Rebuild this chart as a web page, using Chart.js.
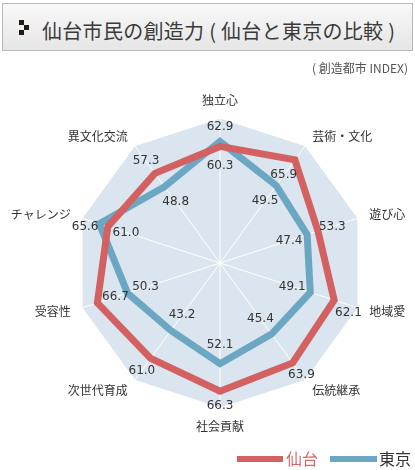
<!DOCTYPE html>
<html lang="ja">
<head>
<meta charset="utf-8">
<script src="https://cdn.jsdelivr.net/npm/chart.js@4.4.1/dist/chart.umd.min.js"></script>
<style>
  body { margin: 0; background: #fff; font-family: "Noto Sans CJK JP", sans-serif; color: #333; }
  #wrap { position: relative; width: 415px; height: 470px; overflow: hidden; }
  #chart { position: absolute; left: 0; top: 0; }
  .title-box {
    position: absolute; left: 2px; top: 3px; width: 409px; height: 46px;
    border: 1px solid #b8b8b8;
    background: linear-gradient(#f8f8f8, #e6e6e6);
  }
  .title-box .icon { position: absolute; width: 5px; height: 5px; background: #231815; }
  .title-box h1 {
    position: absolute; left: 39px; top: 14px; margin: 0;
    font-size: 20px; font-weight: normal; line-height: 26px; color: #3a3a3a;
    letter-spacing: 0.3px; white-space: nowrap;
  }
  .sub { position: absolute; right: 7px; top: 60px; font-size: 12px; line-height: 16px; color: #555; }
  .legend { position: absolute; top: 448px; height: 20px; font-size: 16px; line-height: 20px; white-space: nowrap; }
  .legend .bar { position: absolute; top: 8px; height: 6px; }
  .legend .txt { position: absolute; left: 49px; top: 0; }
</style>
</head>
<body>
<div id="wrap">
  <canvas id="chart" width="415" height="470"></canvas>
  <div class="title-box">
    <span class="icon" style="left:16px;top:16px"></span>
    <span class="icon" style="left:21px;top:21px"></span>
    <span class="icon" style="left:16px;top:26px"></span>
    <h1>仙台市民の創造力 ( 仙台と東京の比較 )</h1>
  </div>
  <div class="sub">( 創造都市 INDEX)</div>
  <div class="legend" style="left:237px;width:90px">
    <span class="bar" style="left:0;width:46px;background:#d46162"></span>
    <span class="txt" style="color:#d46a6c">仙台</span>
  </div>
  <div class="legend" style="left:330px;width:85px">
    <span class="bar" style="left:0;width:47px;background:#6ba7c3"></span>
    <span class="txt" style="color:#333">東京</span>
  </div>
</div>
<script>
// 指標（上から時計回り）
const categories = ['独立心', '芸術・文化', '遊び心', '地域愛', '伝統継承', '社会貢献', '次世代育成', '受容性', 'チャレンジ', '異文化交流'];
const sendaiValues = [60.3, 65.9, 53.3, 62.1, 63.9, 66.3, 61.0, 66.7, 61.0, 57.3];
const tokyoValues = [62.9, 49.5, 47.4, 49.1, 45.4, 52.1, 43.2, 50.3, 65.6, 48.8];
const scaleMax = 75;

// 数値ラベルを線の外側(1)・内側(-1)どちらに置くか
const sendaiLabelSide = [-1, -1, 1, 1, 1, 1, 1, -1, -1, 1];
const tokyoLabelSide = [1, -1, -1, -1, -1, -1, -1, -1, 1, -1];

const RED = '#d46162';
const BLUE = '#6ba7c3';

// 軸ラベルと数値ラベルを描く
const labelPlugin = {
  id: 'radarLabels',
  afterDatasetsDraw(chart) {
    const ctx = chart.ctx;
    const scale = chart.scales.r;
    const n = categories.length;
    ctx.save();
    ctx.fillStyle = '#333';

    // 軸ラベル
    ctx.font = '12px "Noto Sans CJK JP", sans-serif';
    categories.forEach((name, i) => {
      const p = scale.getPointPosition(i, scale.drawingArea + 12);
      const deg = i * 360 / n;
      if (deg === 0) { ctx.textAlign = 'center'; ctx.textBaseline = 'bottom'; }
      else if (deg === 180) { ctx.textAlign = 'center'; ctx.textBaseline = 'top'; }
      else if (deg < 180) { ctx.textAlign = 'left'; ctx.textBaseline = 'middle'; }
      else { ctx.textAlign = 'right'; ctx.textBaseline = 'middle'; }
      ctx.fillText(name, p.x, p.y);
    });

    // 数値ラベル
    ctx.font = '12px "DejaVu Sans", sans-serif';
    ctx.textAlign = 'center';
    ctx.textBaseline = 'middle';
    const sides = [sendaiLabelSide, tokyoLabelSide];
    chart.data.datasets.forEach((ds, d) => {
      ds.data.forEach((v, i) => {
        const outer = sides[d][i] > 0;
        const r = scale.getDistanceFromCenterForValue(v) + (outer ? 15 : -19);
        const p = scale.getPointPosition(i, r);
        // 横向きの軸で外周に近い外側ラベルは少し下げて軸名と重ならないように
        const nudge = outer && Math.abs(Math.sin(p.angle)) < 0.5 && r > scale.drawingArea * 0.9 ? 8 : 0;
        ctx.fillText(v.toFixed(1), p.x, p.y + nudge);
      });
    });
    ctx.restore();
  }
};

new Chart(document.getElementById('chart'), {
  type: 'radar',
  data: {
    labels: categories,
    datasets: [
      { label: '仙台', data: sendaiValues, borderColor: RED, backgroundColor: 'transparent', borderWidth: 7 },
      { label: '東京', data: tokyoValues, borderColor: BLUE, backgroundColor: 'transparent', borderWidth: 7 }
    ]
  },
  options: {
    responsive: false,
    animation: false,
    layout: { padding: { left: 75, right: 50, top: 118, bottom: 62 } },
    elements: {
      line: { tension: 0, borderJoinStyle: 'miter', fill: false },
      point: { radius: 0, hoverRadius: 0 }
    },
    plugins: { legend: { display: false }, tooltip: { enabled: false } },
    scales: {
      r: {
        min: 0,
        max: scaleMax,
        backgroundColor: '#dae5ef',
        ticks: { display: false, stepSize: scaleMax },
        grid: { color: '#ffffff', lineWidth: 1 },
        angleLines: { color: '#ffffff', lineWidth: 1 },
        pointLabels: { display: false }
      }
    }
  },
  plugins: [labelPlugin]
});
</script>
</body>
</html>
